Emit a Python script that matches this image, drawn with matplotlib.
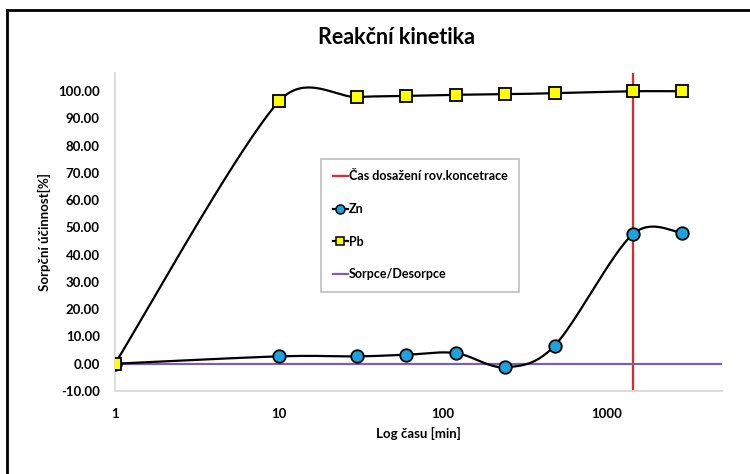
import matplotlib
matplotlib.use('Agg')
import matplotlib.pyplot as plt
from matplotlib.lines import Line2D
import numpy as np

plt.rcParams['font.family'] = ['Lato', 'DejaVu Sans']
plt.rcParams['font.weight'] = 'bold'

# data
cas = [1, 10, 30, 60, 120, 240, 480, 1440, 2880]
zn = [0.0, 2.7, 2.7, 3.3, 3.9, -1.3, 6.6, 47.5, 48.0]
pb = [0.0, 96.2, 97.8, 98.2, 98.6, 98.8, 99.2, 99.9, 99.9]
cas_rovnovahy = 1440
x_lim = [1, 5040]
y_lim = [-10, 106.6]
y_ticks = [-10, 0, 10, 20, 30, 40, 50, 60, 70, 80, 90, 100]
x_ticks = [1, 10, 100, 1000]

# pixel scale of the plot area, used so the smoothing behaves like Excel's
PX_DEC = 164.0
PX_UNIT = 2.727


def clamp(off, seg):
    # keep a control point within half of its segment
    n = np.linalg.norm(off)
    lim = np.linalg.norm(seg) / 2
    return off * (lim / n) if n > lim else off


def smooth(xs, ys, n=40):
    p = np.column_stack([np.log10(xs) * PX_DEC, np.asarray(ys, float) * PX_UNIT])
    p = np.vstack([p[0], p, p[-1]])
    t = np.linspace(0, 1, n)[:, None]
    out = []
    for i in range(1, len(p) - 2):
        p0, p1, p2, p3 = p[i - 1], p[i], p[i + 1], p[i + 2]
        c1 = p1 + clamp((p2 - p0) / 6, p2 - p1)
        c2 = p2 - clamp((p3 - p1) / 6, p2 - p1)
        b = (1 - t) ** 3 * p1 + 3 * (1 - t) ** 2 * t * c1 + 3 * (1 - t) * t ** 2 * c2 + t ** 3 * p2
        out.append(b)
    out = np.vstack(out)
    return 10 ** (out[:, 0] / PX_DEC), out[:, 1] / PX_UNIT


fig = plt.figure(figsize=(7.5, 4.74), dpi=100)
ax = fig.add_axes([0.1533, 0.1751, 0.8093, 0.6709])

ax.axvline(cas_rovnovahy, color='#E8262A', lw=1.6, zorder=1)

zx, zy = smooth(cas, zn)
ax.plot(zx, zy, color='black', lw=1.6, zorder=3)
ax.plot(cas, zn, ls='none', marker='o', ms=9, mfc='#1CA3DE', mec='black', mew=1.3, zorder=4)

px, py = smooth(cas, pb)
ax.plot(px, py, color='black', lw=1.6, zorder=3)
ax.plot(cas, pb, ls='none', marker='s', ms=8, mfc='#FFFF00', mec='black', mew=1.3, zorder=4)

ax.plot(x_lim, [0, 0], color='#7F5FA8', lw=1.6, zorder=2)

ax.set_xscale('log')
ax.set_xlim(x_lim)
ax.set_ylim(y_lim)
ax.set_xticks(x_ticks)
ax.set_xticklabels([str(v) for v in x_ticks])
ax.set_yticks(y_ticks)
ax.set_yticklabels(['%.2f' % v for v in y_ticks])
ax.minorticks_off()
ax.tick_params(length=0, labelsize=9.5)
ax.tick_params(axis='y', pad=11)
ax.tick_params(axis='x', pad=12)

for s in ['top', 'right']:
    ax.spines[s].set_visible(False)
for s in ['left', 'bottom']:
    ax.spines[s].set_color('#D9D9D9')
    ax.spines[s].set_linewidth(1.3)

ax.set_ylabel('Sorpční účinnost[%]', fontsize=9.5, fontweight='bold', labelpad=5)
ax.set_xlabel('Log času [min]', fontsize=9.5, fontweight='bold', labelpad=5)

fig.text(397 / 750, 1 - 37 / 474, 'Reakční kinetika', fontsize=15.5, fontweight='bold',
         ha='center', va='center')

handles = [
    Line2D([], [], color='#E8262A', lw=1.6),
    Line2D([], [], color='black', lw=1.6, marker='o', ms=6.5, mfc='#1CA3DE', mec='black', mew=1.1),
    Line2D([], [], color='black', lw=1.6, marker='s', ms=6, mfc='#FFFF00', mec='black', mew=1.1),
    Line2D([], [], color='#7F5FA8', lw=1.6),
]
labels = ['Čas dosažení rov.koncetrace', 'Zn', 'Pb', 'Sorpce/Desorpce']
leg = ax.legend(handles, labels, loc='upper left', bbox_to_anchor=(315 / 750, 1 - 153 / 474),
                bbox_transform=fig.transFigure, fontsize=9, labelspacing=1.65,
                handlelength=1.2, handletextpad=0.1, borderpad=0.9, fancybox=False,
                framealpha=1, edgecolor='#BFBFBF')
leg.get_frame().set_linewidth(1.2)

# outer chart frame (left and top edges visible)
fig.add_artist(Line2D([7 / 750, 7 / 750], [0, 1 - 10 / 474], color='black', lw=2,
                      transform=fig.transFigure))
fig.add_artist(Line2D([7 / 750, 1], [1 - 10 / 474, 1 - 10 / 474], color='black', lw=2,
                      transform=fig.transFigure))

fig.savefig('out.png', dpi=100)
